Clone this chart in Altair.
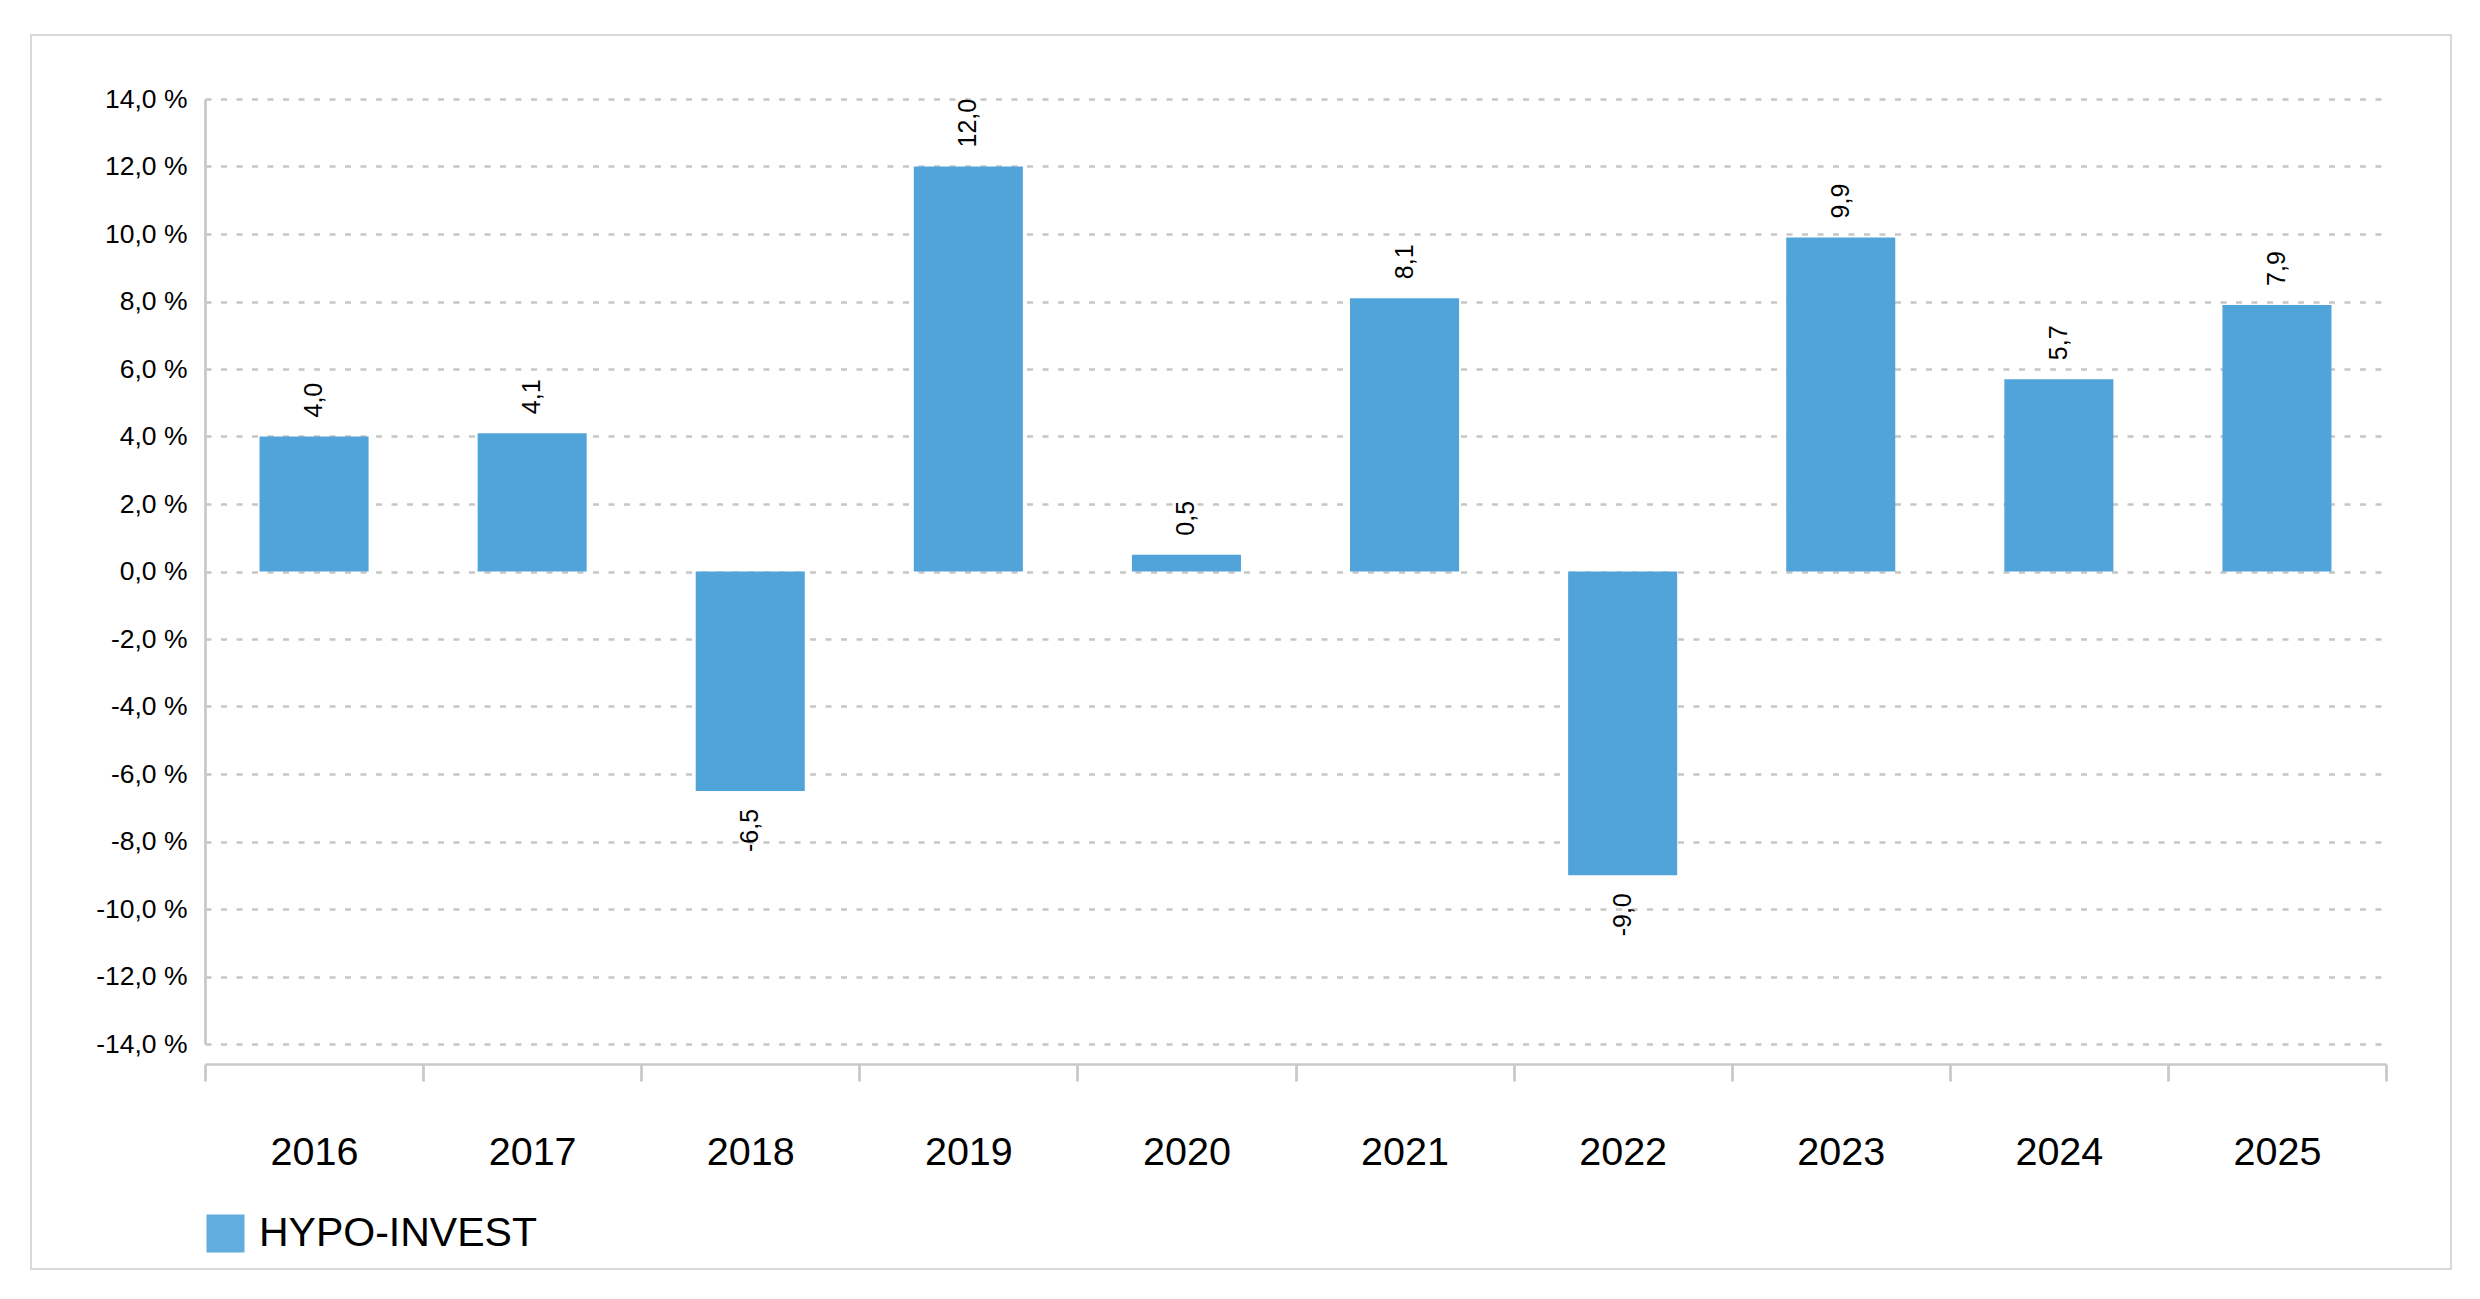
import altair as alt
import pandas as pd

years = ["2016", "2017", "2018", "2019", "2020", "2021", "2022", "2023", "2024", "2025"]
values = [4.0, 4.1, -6.5, 12.0, 0.5, 8.1, -9.0, 9.9, 5.7, 7.9]
series_name = "HYPO-INVEST"
y_ticks = [-14, -12, -10, -8, -6, -4, -2, 0, 2, 4, 6, 8, 10, 12, 14]

df = pd.DataFrame({"year": years, "value": values, "series": [series_name] * len(years)})

W, H = 2181, 945
FONT = "Liberation Sans"
BAR = "#50A4DA"
GRID = "#C6C6C6"

x_enc = alt.X(
    "year:N",
    sort=years,
    scale=alt.Scale(paddingInner=0, paddingOuter=0),
    axis=alt.Axis(
        title=None,
        labelAngle=0,
        labelFontSize=39.5,
        labelFont=FONT,
        labelColor="#000000",
        labelPadding=52,
        offset=20,
        tickBand="extent",
        tickSize=17,
        tickWidth=2.7,
        tickColor="#C8C8C8",
        domainColor="#C8C8C8",
        domainWidth=2.7,
        grid=False,
    ),
)

y_scale = alt.Scale(domain=[-14, 14], nice=False)

base = alt.Chart(df)

bars = base.mark_bar(width=alt.RelativeBandSize(0.5)).encode(
    x=x_enc,
    y=alt.Y(
        "value:Q",
        scale=y_scale,
        axis=alt.Axis(
            title=None,
            values=y_ticks,
            labelExpr="(datum.value < 0 ? '-' : '') + replace(format(abs(datum.value), '.1f'), '.', ',') + ' %'",
            labelFontSize=26.5,
            labelFont=FONT,
            labelColor="#000000",
            labelPadding=18,
            ticks=False,
            domainColor="#C8C8C8",
            domainWidth=2.7,
            grid=True,
            gridColor=GRID,
            gridWidth=2.6,
            gridDash=[6, 9.5],
        ),
    ),
    color=alt.Color(
        "series:N",
        scale=alt.Scale(range=[BAR]),
        legend=alt.Legend(
            title=None,
            orient="bottom",
            symbolType="square",
            symbolSize=1444,
            symbolOpacity=0.9,
            symbolStrokeWidth=0,
            labelFontSize=41,
            labelFont=FONT,
            labelColor="#000000",
            labelOffset=13,
            labelLimit=0,
            offset=41,
            padding=0,
        ),
    ),
)

label_calc = "(datum.value < 0 ? '-' : '') + replace(format(abs(datum.value), '.1f'), '.', ',')"

pos_labels = base.transform_filter("datum.value >= 0").transform_calculate(
    lbl=label_calc
).mark_text(angle=270, align="left", baseline="middle", dx=19, fontSize=25, font=FONT, color="#000000").encode(
    x=alt.X("year:N", sort=years),
    y=alt.Y("value:Q", scale=y_scale),
    text="lbl:N",
)

neg_labels = base.transform_filter("datum.value < 0").transform_calculate(
    lbl=label_calc
).mark_text(angle=270, align="right", baseline="middle", dx=-18, fontSize=25, font=FONT, color="#000000").encode(
    x=alt.X("year:N", sort=years),
    y=alt.Y("value:Q", scale=y_scale),
    text="lbl:N",
)

frame = alt.Chart(pd.DataFrame({"f": [0]})).mark_rect(
    fill=None, filled=False, stroke="#D9D9D9", strokeWidth=2
).encode(
    x=alt.value(-174), x2=alt.value(W + 65), y=alt.value(-64), y2=alt.value(H + 225)
)

chart = alt.layer(frame, bars, pos_labels, neg_labels).properties(
    width=W, height=H, padding={"left": 22, "top": 26, "right": 10, "bottom": 10}, background="#FFFFFF"
).configure_view(stroke=None)

chart.save("out.html", embed_options={"renderer": "svg", "actions": False})
